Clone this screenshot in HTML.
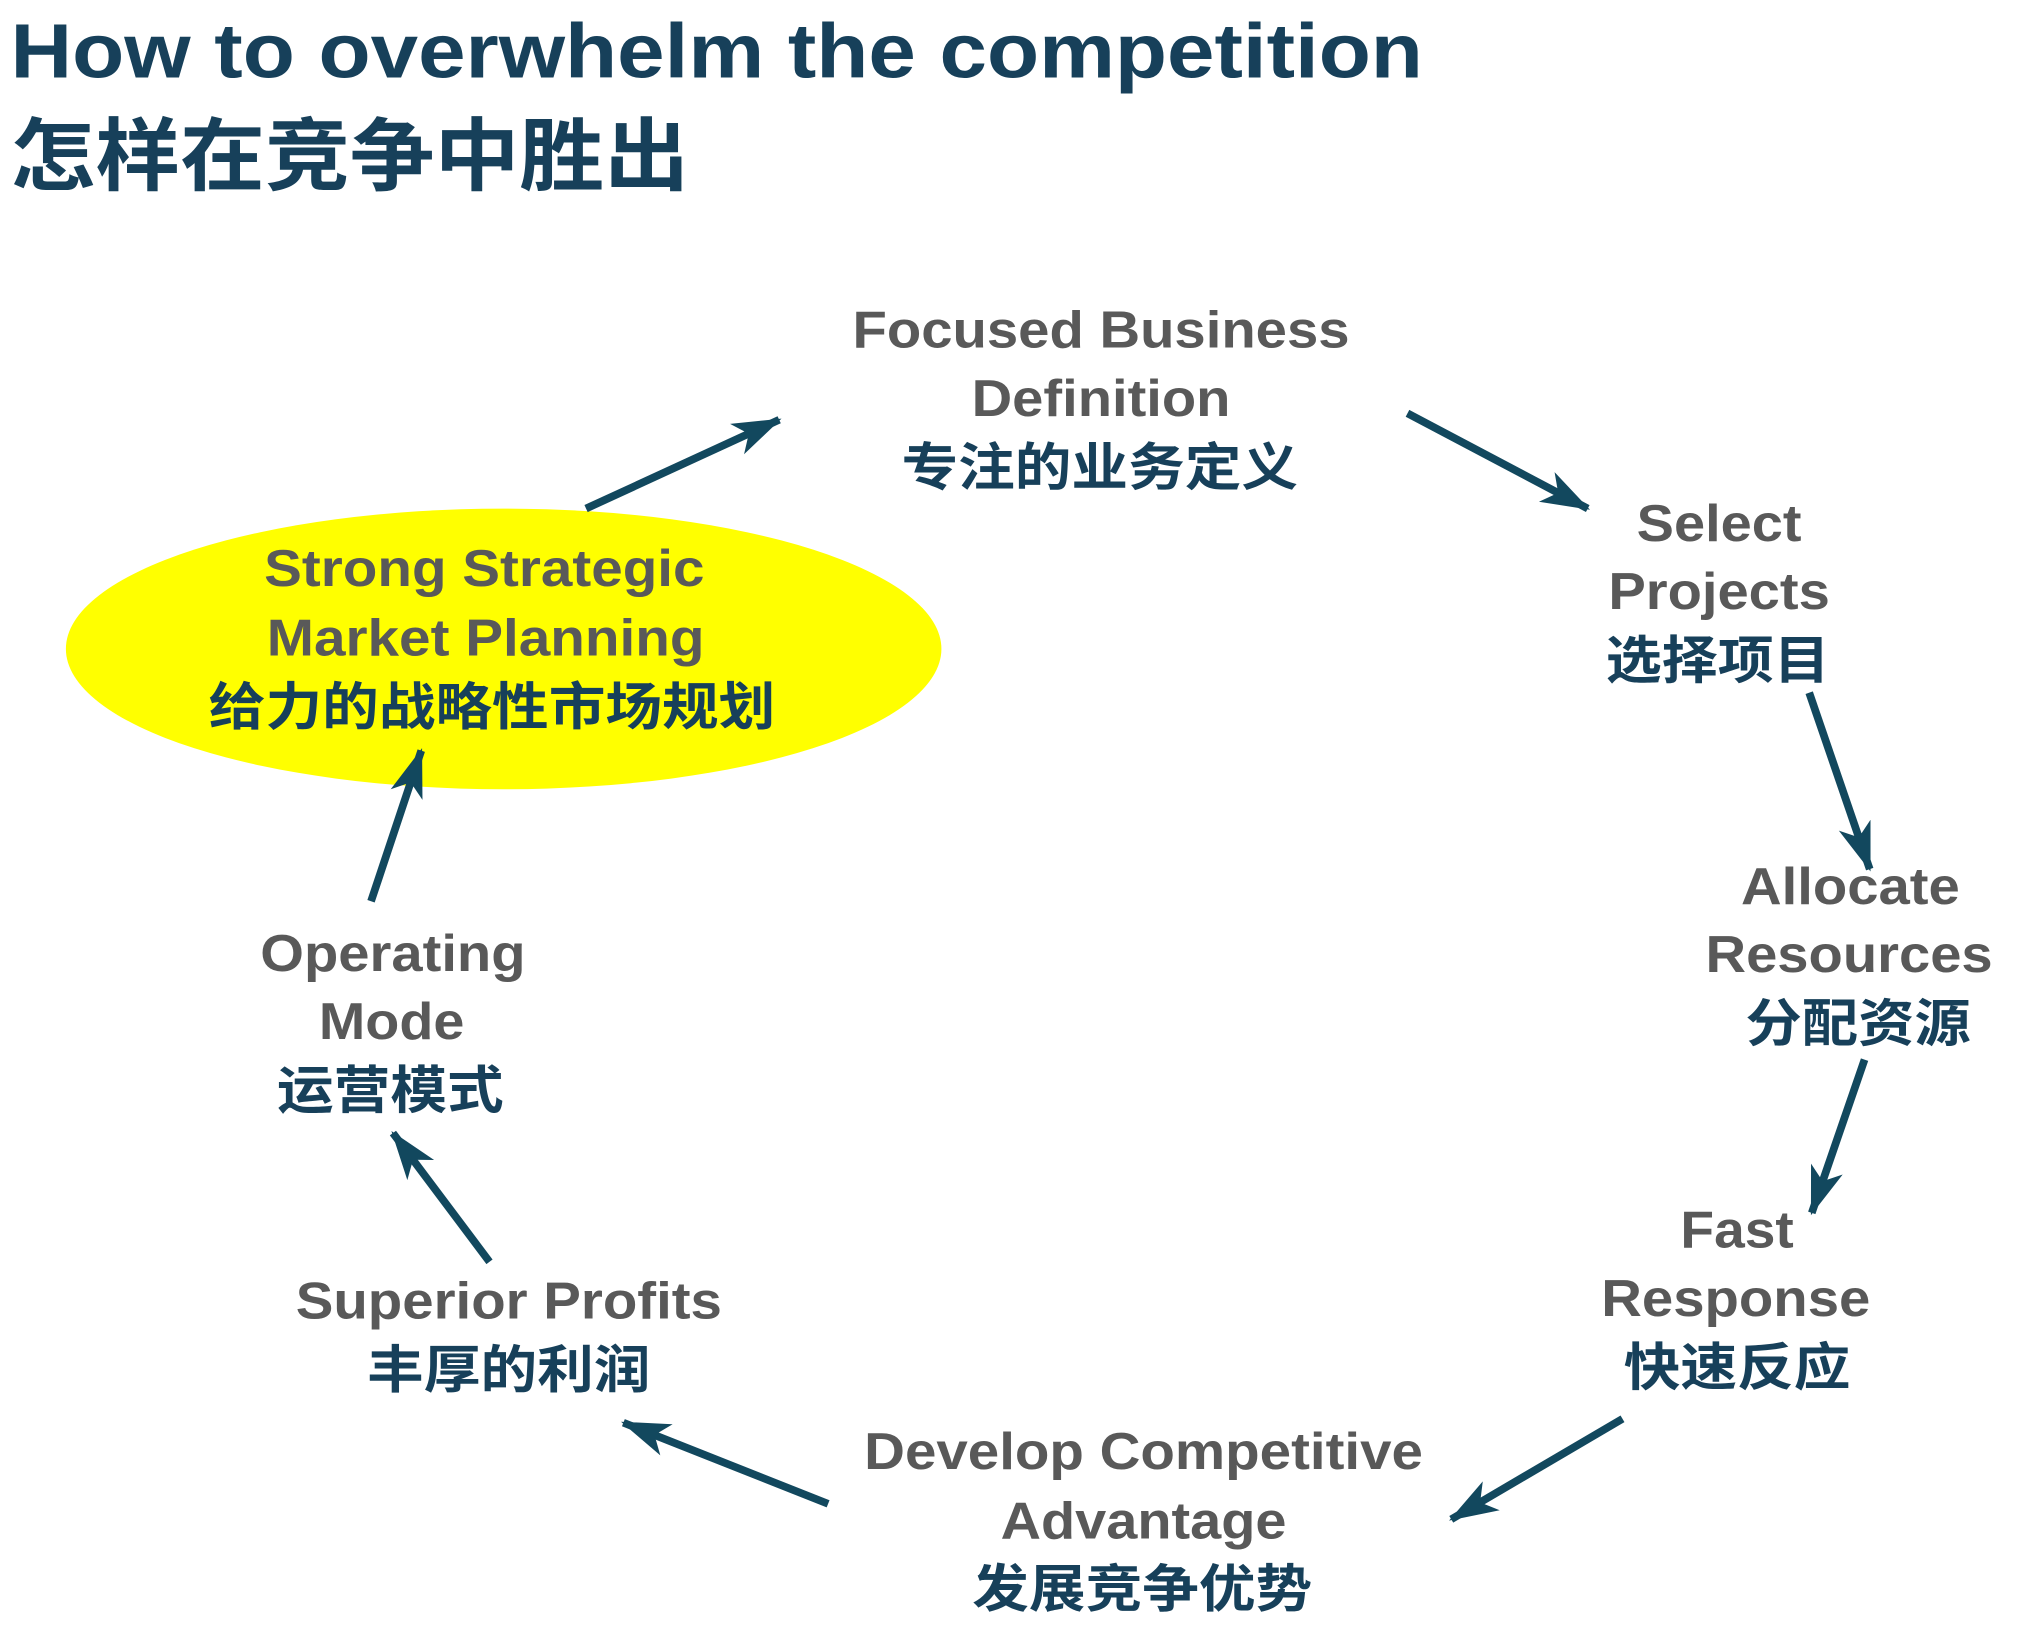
<!DOCTYPE html>
<html><head><meta charset="utf-8"><style>
html,body{margin:0;padding:0;background:#fff;}
svg{display:block;}
.g{font-family:"Liberation Sans","Noto Sans CJK SC",sans-serif;font-weight:bold;fill:#595959;font-size:40px;text-anchor:middle;}
.c{font-family:"Liberation Sans","Noto Sans CJK SC",sans-serif;font-weight:bold;fill:#17405a;font-size:40px;text-anchor:middle;}
</style></head><body>
<svg width="2018" height="1630" viewBox="0 0 1567 1266" xmlns="http://www.w3.org/2000/svg">
<defs>
<marker id="a" markerUnits="userSpaceOnUse" markerWidth="40" markerHeight="30" refX="36" refY="15" orient="auto">
<path d="M0,2 L38,15 L0,28 L10,15 Z" fill="#12485e"/>
</marker>
</defs>
<text x="8" y="60" textLength="1097" lengthAdjust="spacingAndGlyphs" style="font-family:'Liberation Sans',sans-serif;font-weight:bold;font-size:60px;fill:#17405a">How to overwhelm the competition</text>
<text x="8" y="143" textLength="527" lengthAdjust="spacingAndGlyphs" style="font-family:'Liberation Sans','Noto Sans CJK SC',sans-serif;font-weight:bold;font-size:62px;fill:#17405a">怎样在竞争中胜出</text>

<ellipse cx="391" cy="504" rx="340" ry="109" fill="#ffff00"/>

<g stroke="#12485e" stroke-width="6" fill="none" marker-end="url(#a)">
<line x1="455" y1="395" x2="605" y2="326"/>
<line x1="1093" y1="321" x2="1233" y2="395"/>
<line x1="1405" y1="538" x2="1452" y2="675"/>
<line x1="1448" y1="823" x2="1407" y2="942"/>
<line x1="1260" y1="1102" x2="1127" y2="1180"/>
<line x1="643" y1="1168" x2="484" y2="1105"/>
<line x1="380" y1="980" x2="305" y2="880"/>
<line x1="288" y1="700" x2="327" y2="583"/>
</g>

<g>
<text class="g" x="855" y="270" textLength="386" lengthAdjust="spacingAndGlyphs">Focused Business</text>
<text class="g" x="855" y="323" textLength="201" lengthAdjust="spacingAndGlyphs">Definition</text>
<text class="c" x="854" y="377" textLength="308" lengthAdjust="spacingAndGlyphs">专注的业务定义</text>

<text class="g" x="1335" y="420" textLength="128" lengthAdjust="spacingAndGlyphs">Select</text>
<text class="g" x="1335" y="473" textLength="172" lengthAdjust="spacingAndGlyphs">Projects</text>
<text class="c" x="1334" y="527" textLength="174" lengthAdjust="spacingAndGlyphs">选择项目</text>

<text class="g" x="1437" y="702" textLength="170" lengthAdjust="spacingAndGlyphs">Allocate</text>
<text class="g" x="1436" y="755" textLength="223" lengthAdjust="spacingAndGlyphs">Resources</text>
<text class="c" x="1443" y="809" textLength="175" lengthAdjust="spacingAndGlyphs">分配资源</text>

<text class="g" x="1349" y="969" textLength="88" lengthAdjust="spacingAndGlyphs">Fast</text>
<text class="g" x="1348" y="1022" textLength="209" lengthAdjust="spacingAndGlyphs">Response</text>
<text class="c" x="1349" y="1076" textLength="176" lengthAdjust="spacingAndGlyphs">快速反应</text>

<text class="g" x="888" y="1141" textLength="434" lengthAdjust="spacingAndGlyphs">Develop Competitive</text>
<text class="g" x="888" y="1195" textLength="222" lengthAdjust="spacingAndGlyphs">Advantage</text>
<text class="c" x="887" y="1248" textLength="264" lengthAdjust="spacingAndGlyphs">发展竞争优势</text>

<text class="g" x="395" y="1024" textLength="331" lengthAdjust="spacingAndGlyphs">Superior Profits</text>
<text class="c" x="395" y="1078" textLength="220" lengthAdjust="spacingAndGlyphs">丰厚的利润</text>

<text class="g" x="305" y="754" textLength="206" lengthAdjust="spacingAndGlyphs">Operating</text>
<text class="g" x="304" y="807" textLength="113" lengthAdjust="spacingAndGlyphs">Mode</text>
<text class="c" x="303" y="861" textLength="176" lengthAdjust="spacingAndGlyphs">运营模式</text>

<text class="g" x="376" y="455" textLength="342" lengthAdjust="spacingAndGlyphs">Strong Strategic</text>
<text class="g" x="377" y="509" textLength="340" lengthAdjust="spacingAndGlyphs">Market Planning</text>
<text class="c" x="382" y="563" textLength="440" lengthAdjust="spacingAndGlyphs">给力的战略性市场规划</text>
</g>
</svg>
</body></html>
